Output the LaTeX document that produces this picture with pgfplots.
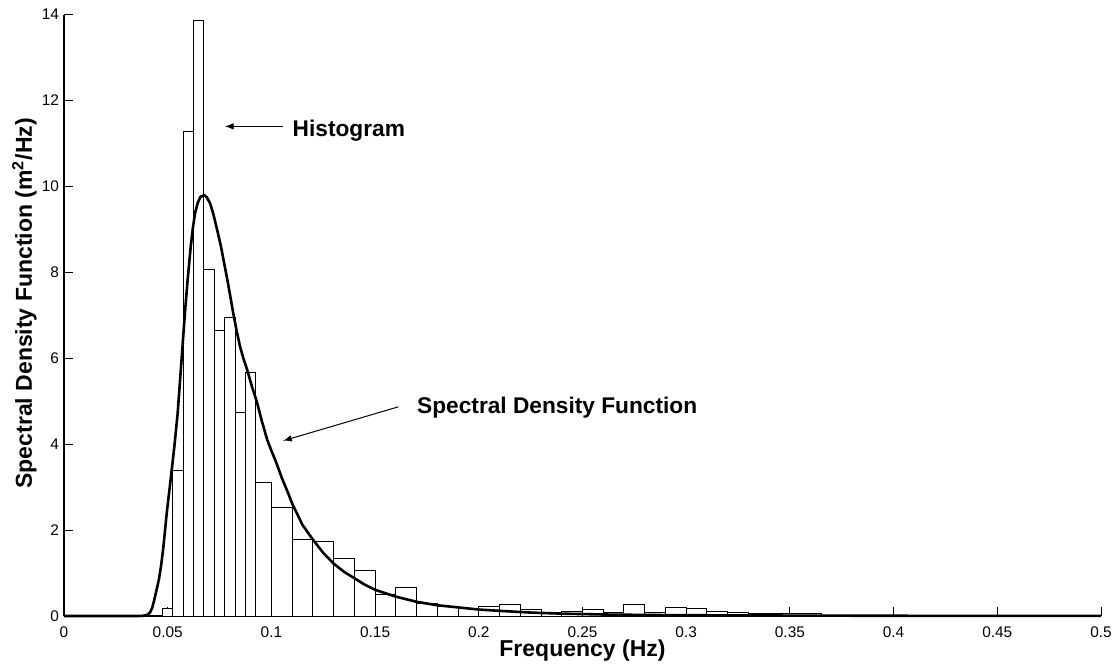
\documentclass[border=0pt]{standalone}
\usepackage{fontspec}
\setmainfont{Liberation Sans}
\usepackage{pgfplots}
\pgfplotsset{compat=1.18}
\begin{document}
\begin{tikzpicture}
\begin{axis}[
  scale only axis,
  width=518.5pt, height=300.65pt,
  xmin=0, xmax=0.5, ymin=0, ymax=14,
  axis x line*=bottom, axis y line*=left,
  axis line style={line width=0.6pt},
  tick align=inside,
  major tick length=4.65pt,
  tick style={line width=0.5pt, black},
  xtick={0,0.05,0.1,0.15,0.2,0.25,0.3,0.35,0.4,0.45,0.5},
  xticklabels={0,0.05,0.1,0.15,0.2,0.25,0.3,0.35,0.4,0.45,0.5},
  ytick={0,2,4,6,8,10,12,14},
  yticklabels={0,2,4,6,8,10,12,14},
  scaled x ticks=false,
  tick label style={font=\fontsize{7.7}{9}\selectfont},
  xticklabel style={yshift=-2pt},
  yticklabel style={xshift=1pt},
  xlabel={Frequency (Hz)},
  ylabel={Spectral Density Function (m\textsuperscript{2}/Hz)},
  label style={font=\bfseries\fontsize{11.5}{13}\selectfont},
  xlabel style={at={(axis description cs:0.5,0)}, anchor=base, yshift=-20.35pt, inner sep=0pt},
  ylabel style={at={([xshift=-16pt]axis description cs:0,0.52)}, anchor=base, inner sep=0pt},
  clip=false,
]
\addplot[ybar interval, fill=white, draw=black, line width=0.5pt] coordinates {
(0.0475,0.18)
(0.0525,3.38)
(0.0575,11.29)
(0.0625,13.86)
(0.0675,8.07)
(0.0725,6.65)
(0.0775,6.94)
(0.0825,4.74)
(0.0875,5.67)
(0.0925,3.10)
(0.10,2.53)
(0.11,1.79)
(0.12,1.74)
(0.13,1.34)
(0.14,1.05)
(0.15,0.50)
(0.16,0.67)
(0.17,0.28)
(0.18,0.22)
(0.19,0.18)
(0.20,0.22)
(0.21,0.26)
(0.22,0.15)
(0.23,0.09)
(0.24,0.11)
(0.25,0.16)
(0.26,0.08)
(0.27,0.27)
(0.28,0.09)
(0.29,0.20)
(0.30,0.18)
(0.31,0.11)
(0.32,0.08)
(0.33,0.05)
(0.34,0.05)
(0.35,0.05)
(0.365,0)
(0.405,0.02)
(0.425,0)
};
\addplot[black, line width=1.3pt, line join=round] coordinates {
(0,0) (0.036,0) (0.038,0.005) (0.040,0.025) (0.0415,0.08) (0.0425,0.19)
(0.0434,0.35) (0.0446,0.6) (0.0458,0.86) (0.0469,1.2) (0.0479,1.6)
(0.0487,1.98) (0.0495,2.38) (0.0514,3.17) (0.0532,3.94) (0.0548,4.72)
(0.0559,5.45) (0.0571,6.25) (0.0583,7.05) (0.0596,7.82) (0.0611,8.60)
(0.0621,9.02) (0.0632,9.38) (0.0645,9.62) (0.0658,9.76) (0.0677,9.80)
(0.0690,9.74) (0.0705,9.60) (0.0720,9.36) (0.0738,9.0) (0.0757,8.60)
(0.0772,8.22) (0.0788,7.82) (0.0802,7.44) (0.0816,7.05) (0.0832,6.65)
(0.0849,6.27) (0.0866,5.98) (0.0884,5.72) (0.0905,5.36) (0.0929,5.0)
(0.0955,4.52) (0.098,4.1) (0.100,3.85) (0.1025,3.55) (0.105,3.22)
(0.108,2.87) (0.110,2.62) (0.115,2.12) (0.120,1.78) (0.125,1.47)
(0.130,1.22) (0.135,1.03) (0.140,0.88) (0.145,0.73) (0.150,0.61)
(0.160,0.45) (0.170,0.33) (0.180,0.25) (0.190,0.20) (0.200,0.15)
(0.210,0.12) (0.225,0.08) (0.240,0.055) (0.260,0.035) (0.280,0.025)
(0.300,0.018) (0.350,0.01) (0.400,0.005) (0.450,0.003) (0.500,0.002)
};
\draw[-latex, line width=0.5pt] (axis cs:0.1054,11.40) -- (axis cs:0.0776,11.40);
\draw[-latex, line width=0.5pt] (axis cs:0.1612,4.87) -- (axis cs:0.1057,4.08);
\node[anchor=base west, inner sep=0pt, font=\bfseries\fontsize{11.35}{13}\selectfont] at (axis cs:0.1101,11.16) {Histogram};
\node[anchor=base west, inner sep=0pt, font=\bfseries\fontsize{11.35}{13}\selectfont] at (axis cs:0.1701,4.72) {Spectral Density Function};
\end{axis}
\pgfresetboundingbox
\path[use as bounding box] (-32pt,-24pt) rectangle (527pt,308pt);
\end{tikzpicture}
\end{document}
